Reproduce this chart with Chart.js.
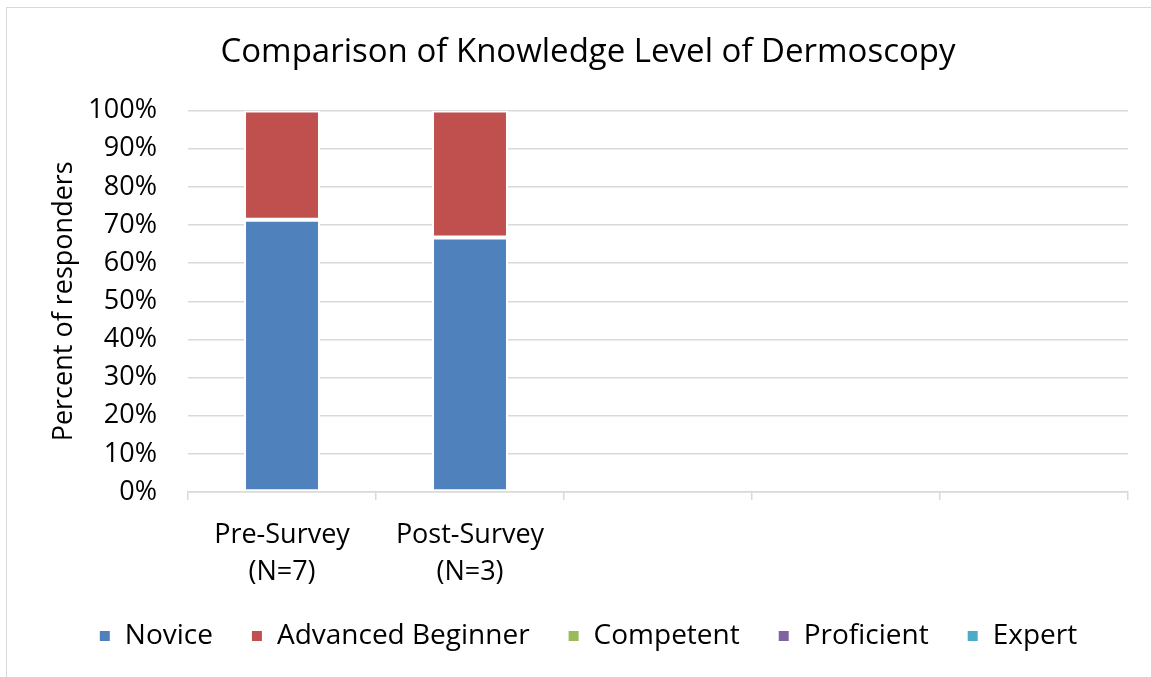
<!DOCTYPE html>
<html>
<head>
<meta charset="utf-8">
<script src="https://cdn.jsdelivr.net/npm/chart.js@4.4.1/dist/chart.umd.min.js"></script>
<style>
  html, body { margin: 0; padding: 0; background: #fff; }
  #frame {
    position: absolute; left: 6px; top: 7px; width: 1160px; height: 690px;
    border: 1.5px solid #d9d9d9; box-sizing: border-box;
  }
  #wrap { position: absolute; left: 0; top: 0; width: 1151px; height: 677px; }
</style>
</head>
<body>
<div id="frame"></div>
<div id="wrap"><canvas id="chart" width="1151" height="677"></canvas></div>
<script>
// Chart values (percent of responders)
const categories = [['Pre-Survey', '(N=7)'], ['Post-Survey', '(N=3)'], '', '', ''];
const novice = [71.4, 66.7, null, null, null];
const advancedBeginner = [28.6, 33.3, null, null, null];
const competent = [0, 0, null, null, null];
const proficient = [0, 0, null, null, null];
const expert = [0, 0, null, null, null];
const yTicks = [0, 10, 20, 30, 40, 50, 60, 70, 80, 90, 100];

const font = 'Open Sans';
const gridColor = '#d9d9d9';

function series(label, data, color) {
  return {
    label: label,
    data: data,
    backgroundColor: color,
    borderColor: '#ffffff',
    borderWidth: 2,
    borderSkipped: false,
    categoryPercentage: 1,
    barPercentage: 0.404
  };
}

const ctx = document.getElementById('chart');

new Chart(ctx, {
  type: 'bar',
  data: {
    labels: categories,
    datasets: [
      series('Novice', novice, '#4F81BD'),
      series('Advanced Beginner', advancedBeginner, '#C0504D'),
      series('Competent', competent, '#9BBB59'),
      series('Proficient', proficient, '#8064A2'),
      series('Expert', expert, '#4BACC6')
    ]
  },
  options: {
    responsive: false,
    animation: false,
    layout: {
      padding: { left: 48, right: 23, top: 0, bottom: 17 }
    },
    plugins: {
      title: {
        display: true,
        text: 'Comparison of Knowledge Level of Dermoscopy',
        color: '#000',
        font: { family: font, size: 33, weight: 'normal', lineHeight: 1.2 },
        padding: { top: 33, bottom: 38 }
      },
      legend: {
        position: 'bottom',
        labels: {
          color: '#000',
          boxWidth: 12,
          boxHeight: 12,
          padding: 38,
          font: { family: font, size: 28 }
        }
      },
      tooltip: { enabled: false }
    },
    scales: {
      x: {
        stacked: true,
        afterFit(scale) { scale.height = 92; },
        grid: {
          offset: true,
          drawOnChartArea: false,
          drawTicks: true,
          tickLength: 8,
          color: gridColor,
          lineWidth: 1.5
        },
        border: { display: true, color: gridColor, width: 1.5 },
        ticks: {
          color: '#000',
          padding: 16,
          maxRotation: 0,
          autoSkip: false,
          font: { family: font, size: 27, lineHeight: 1.4 }
        }
      },
      y: {
        stacked: true,
        min: 0,
        max: 100,
        afterFit(scale) { scale.width = 140; },
        afterBuildTicks(scale) { scale.ticks = yTicks.map(v => ({ value: v })); },
        grid: {
          drawTicks: false,
          color: gridColor,
          lineWidth: 1.5
        },
        border: { display: false },
        ticks: {
          color: '#000',
          padding: 31,
          font: { family: font, size: 27 },
          callback: v => v + '%'
        },
        title: {
          display: true,
          text: 'Percent of responders',
          color: '#000',
          padding: { top: 0, bottom: 0 },
          font: { family: font, size: 27, lineHeight: 1.2 }
        }
      }
    }
  }
});
</script>
</body>
</html>
